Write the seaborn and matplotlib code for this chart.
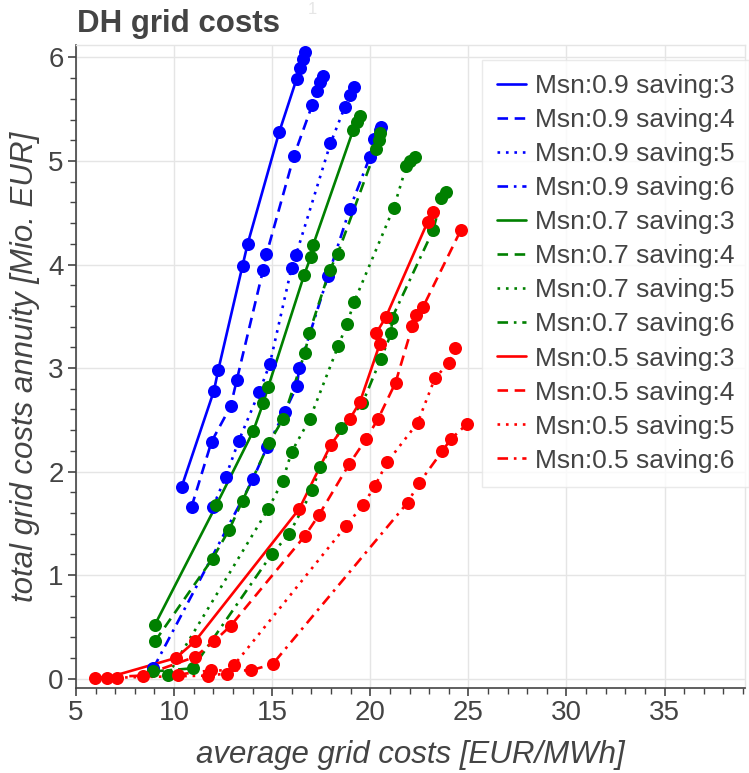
import matplotlib
matplotlib.use("Agg")
import matplotlib.pyplot as plt
from matplotlib.lines import Line2D
from matplotlib.ticker import MultipleLocator
import seaborn as sns
import pandas as pd

# ---- data ----
b3_x = [10.38, 12.03, 12.25, 13.49, 13.75, 15.36, 16.24, 16.41, 16.56, 16.67]
b3_y = [1.85, 2.78, 2.98, 3.99, 4.20, 5.28, 5.79, 5.90, 5.98, 6.05]
b4_x = [10.89, 11.91, 12.88, 13.19, 14.54, 14.71, 16.11, 17.04, 17.26, 17.43, 17.57]
b4_y = [1.66, 2.29, 2.63, 2.88, 3.95, 4.10, 5.05, 5.54, 5.68, 5.76, 5.82]
b5_x = [11.98, 12.63, 13.30, 14.34, 14.88, 15.99, 16.21, 17.97, 18.70, 18.96, 19.18]
b5_y = [1.66, 1.95, 2.30, 2.77, 3.04, 3.97, 4.09, 5.17, 5.52, 5.64, 5.71]
b6_x = [8.94, 14.03, 14.74, 15.65, 16.27, 16.37, 17.85, 18.96, 19.98, 20.18, 20.49, 20.57]
b6_y = [0.10, 1.93, 2.24, 2.58, 2.83, 3.00, 3.89, 4.54, 5.04, 5.21, 5.30, 5.33]

g3_x = [9.02, 12.16, 14.03, 14.54, 14.80, 16.63, 16.96, 17.09, 19.13, 19.30, 19.50]
g3_y = [0.52, 1.68, 2.39, 2.66, 2.82, 3.90, 4.07, 4.19, 5.30, 5.38, 5.43]
g4_x = [9.02, 11.96, 12.81, 13.49, 14.85, 15.56, 16.67, 16.89, 17.94, 18.33, 20.30, 20.42, 20.52]
g4_y = [0.36, 1.16, 1.44, 1.72, 2.28, 2.51, 3.15, 3.34, 3.95, 4.10, 5.12, 5.20, 5.27]
g5_x = [9.70, 14.80, 15.53, 15.99, 16.92, 18.36, 18.82, 19.18, 21.20, 21.84, 22.00, 22.27]
g5_y = [0.04, 1.64, 1.91, 2.19, 2.51, 3.21, 3.43, 3.64, 4.55, 4.95, 5.00, 5.04]
g6_x = [8.94, 10.94, 14.97, 15.87, 17.05, 17.43, 18.53, 19.60, 20.54, 21.08, 21.10, 23.20, 23.63, 23.88]
g6_y = [0.07, 0.10, 1.20, 1.40, 1.82, 2.04, 2.42, 2.66, 3.09, 3.34, 3.48, 4.33, 4.64, 4.70]

r3_x = [6.60, 10.09, 11.06, 16.38, 17.99, 18.96, 19.47, 20.48, 20.31, 20.79, 22.92, 23.20]
r3_y = [0.01, 0.20, 0.36, 1.64, 2.26, 2.51, 2.67, 3.23, 3.34, 3.49, 4.41, 4.51]
r4_x = [5.97, 8.40, 11.06, 12.03, 12.88, 16.67, 17.38, 18.92, 19.77, 20.40, 21.29, 22.15, 22.35, 22.69, 24.61]
r4_y = [0.01, 0.03, 0.21, 0.36, 0.51, 1.38, 1.58, 2.07, 2.31, 2.51, 2.86, 3.41, 3.51, 3.59, 4.33]
r5_x = [7.07, 11.74, 12.71, 13.05, 18.74, 19.64, 20.23, 20.86, 22.41, 23.29, 24.00, 24.34]
r5_y = [0.01, 0.03, 0.05, 0.13, 1.47, 1.68, 1.86, 2.09, 2.47, 2.90, 3.05, 3.19]
r6_x = [10.21, 11.86, 13.90, 15.02, 21.90, 22.49, 23.68, 24.09, 24.93]
r6_y = [0.04, 0.08, 0.08, 0.14, 1.70, 1.89, 2.20, 2.31, 2.46]

msn_values = ["0.9", "0.7", "0.5"]
savings = ["3", "4", "5", "6"]
series_x = [b3_x, b4_x, b5_x, b6_x, g3_x, g4_x, g5_x, g6_x, r3_x, r4_x, r5_x, r6_x]
series_y = [b3_y, b4_y, b5_y, b6_y, g3_y, g4_y, g5_y, g6_y, r3_y, r4_y, r5_y, r6_y]

# ---- styles ----
colors = {"0.9": "#0000ff", "0.7": "#008000", "0.5": "#ff0000"}
dash_styles = {"3": "-", "4": (0, (4, 2.5)), "5": (0, (1, 2.2)), "6": (0, (4, 2.2, 1, 2.2))}
TXT = "#444444"
FONT = "Liberation Sans"

sns.set_theme(style="white")
plt.rcParams["font.family"] = [FONT, "DejaVu Sans"]

fig = plt.figure(figsize=(7.49, 7.73), dpi=100)
ax = fig.add_axes([76 / 749, 1 - 688 / 773, 669 / 749, 643 / 773])

handles = []
i = 0
for m in msn_values:
    for s in savings:
        df = pd.DataFrame({"x": series_x[i], "y": series_y[i]})
        lab = f"Msn:{m} saving:{s}"
        sns.lineplot(data=df, x="x", y="y", ax=ax, color=colors[m], linestyle=dash_styles[s],
                     linewidth=1.9, sort=False, estimator=None, legend=False)
        sns.scatterplot(data=df, x="x", y="y", ax=ax, color=colors[m], s=88, linewidth=0,
                        legend=False, zorder=3)
        handles.append(Line2D([0], [0], color=colors[m], linestyle=dash_styles[s], linewidth=1.9, label=lab))
        i += 1

ax.set_xlim(5, 39.1)
ax.set_ylim(-0.09, 6.12)
ax.xaxis.set_major_locator(MultipleLocator(5))
ax.xaxis.set_minor_locator(MultipleLocator(1))
ax.yaxis.set_major_locator(MultipleLocator(1))
ax.yaxis.set_minor_locator(MultipleLocator(0.2))
ax.grid(True, which="major", color="#e5e5e5", linewidth=1.0)
ax.set_axisbelow(True)

for side in ["top", "right"]:
    ax.spines[side].set_color("#e5e5e5")
    ax.spines[side].set_linewidth(1.0)
for side in ["left", "bottom"]:
    ax.spines[side].set_color(TXT)
    ax.spines[side].set_linewidth(1.2)

ax.tick_params(which="major", direction="out", length=6, width=1.2, color=TXT,
               labelsize=20, labelcolor=TXT, left=True, bottom=True, pad=3)
ax.tick_params(which="minor", direction="out", length=4, width=1.0, color=TXT, left=True, bottom=True)

ax.set_xlabel("average grid costs [EUR/MWh]", fontsize=22.5, style="italic", color=TXT, labelpad=10)
ax.set_ylabel("total grid costs annuity [Mio. EUR]", fontsize=22.5, style="italic", color=TXT, labelpad=6)

leg = ax.legend(handles=handles, loc="upper left", bbox_to_anchor=(0.607, 0.977),
                fontsize=19, frameon=True, fancybox=False, edgecolor="#e5e5e5",
                handlelength=1.1, handletextpad=0.35, labelspacing=0.38, borderpad=0.55,
                borderaxespad=0)
leg.get_frame().set_linewidth(1.0)
for t in leg.get_texts():
    t.set_color(TXT)

fig.text(77 / 749, 1 - 24 / 773, "DH grid costs", fontsize=22.5, fontweight="bold", color=TXT,
         va="center", ha="left")
fig.text(312 / 749, 1 - 10 / 773, "1", fontsize=12, color="#e6e6e6", va="center", ha="center")

fig.savefig("out.png", dpi=100, facecolor="white")
